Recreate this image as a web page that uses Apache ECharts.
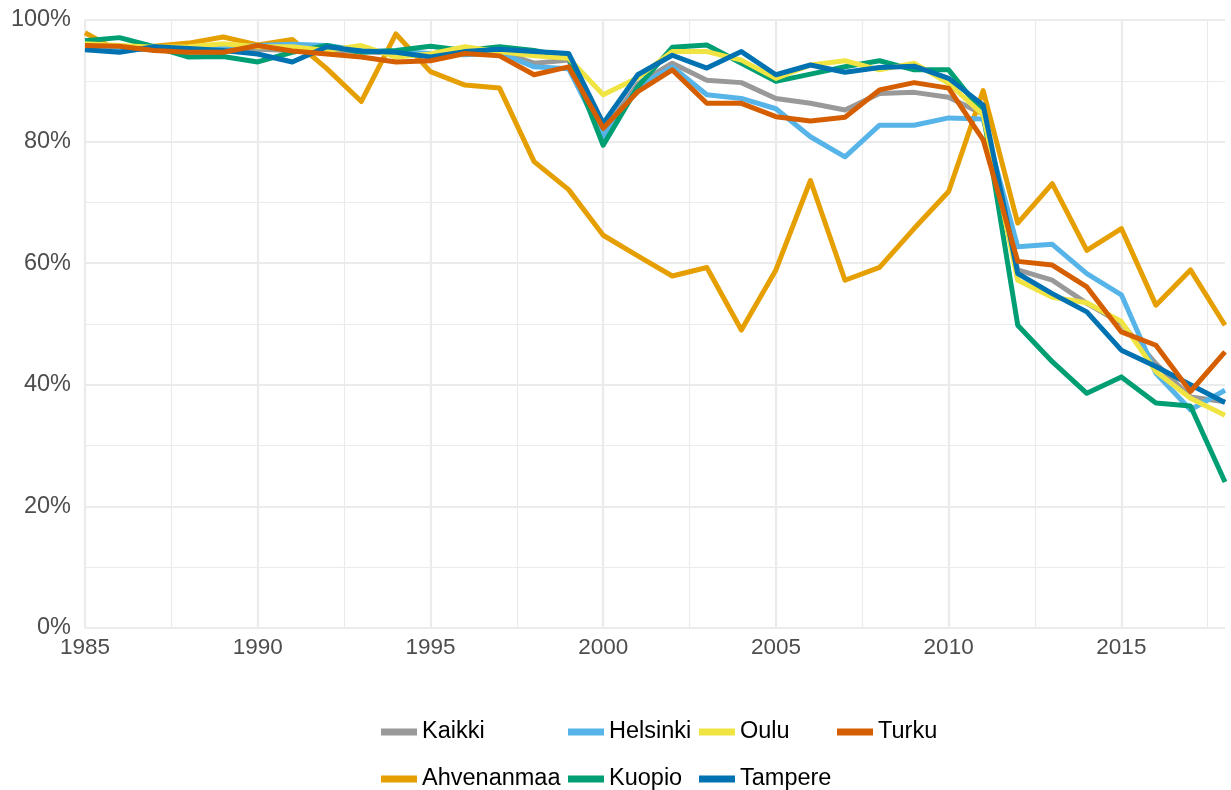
<!DOCTYPE html>
<html>
<head>
<meta charset="utf-8">
<script src="https://cdn.jsdelivr.net/npm/echarts@6/dist/echarts.min.js"></script>
<style>
html,body{margin:0;padding:0;background:#fff;}
#chart{width:1231px;height:790px;}
</style>
</head>
<body>
<div id="chart"></div>
<script>
const years = [1985,1986,1987,1988,1989,1990,1991,1992,1993,1994,1995,1996,1997,1998,1999,2000,2001,2002,2003,2004,2005,2006,2007,2008,2009,2010,2011,2012,2013,2014,2015,2016,2017,2018];
const xTickLabels = [1985,1990,1995,2000,2005,2010,2015];
const yTickLabels = ['0%','20%','40%','60%','80%','100%'];

const kaikki = [95.5,95.2,95.2,95.0,95.2,95.2,95.0,95.0,94.8,94.5,94.2,94.5,94.8,92.9,93.4,81.6,89.5,92.9,90.1,89.7,87.1,86.3,85.2,87.9,88.1,87.3,84.5,58.9,57.2,53.4,50.1,43.5,38.0,37.2];
const ahvenanmaa = [97.9,94.8,95.7,96.2,97.2,95.9,96.8,92.0,86.6,97.7,91.5,89.3,88.8,76.7,72.1,64.6,61.2,57.9,59.3,49.0,58.9,73.6,57.2,59.3,65.7,71.8,88.4,66.6,73.1,62.1,65.7,53.1,58.9,49.8];
const helsinki = [95.3,95.0,95.3,95.2,95.5,95.8,96.0,95.8,95.0,94.8,94.5,94.3,94.6,92.3,92.0,80.8,89.0,92.3,87.7,87.1,85.4,80.8,77.5,82.7,82.7,83.9,83.7,62.7,63.1,58.3,54.8,41.9,35.9,39.1];
const kuopio = [96.6,97.1,95.6,93.9,94.0,93.1,94.7,95.8,94.7,95.0,95.7,95.0,95.6,95.0,93.9,79.4,89.0,95.5,95.9,92.9,89.9,91.1,92.3,93.3,91.8,91.8,84.7,49.8,43.8,38.6,41.3,37.0,36.5,24.0];
const oulu = [96.1,95.8,95.5,95.6,96.1,95.6,95.6,95.0,95.8,93.9,94.4,95.6,94.8,94.1,93.7,87.7,90.5,94.8,94.8,93.4,90.4,92.6,93.3,91.8,92.9,89.6,84.4,57.2,54.4,53.5,50.4,42.2,37.8,35.0];
const tampere = [95.1,94.7,95.6,95.3,95.0,94.4,93.1,95.6,94.9,94.7,93.9,94.8,95.2,94.8,94.5,83.0,91.0,94.2,92.1,94.8,91.0,92.6,91.4,92.2,92.4,90.4,86.0,58.3,55.0,52.0,45.7,43.0,40.0,37.1];
const turku = [95.8,95.7,95.0,94.7,94.7,95.8,94.9,94.4,93.9,93.1,93.3,94.5,94.1,91.0,92.3,82.2,88.2,91.8,86.3,86.3,84.1,83.4,84.0,88.5,89.7,88.8,80.3,60.3,59.7,56.1,48.7,46.5,38.9,45.4];

const seriesNames = ['Kaikki','Ahvenanmaa','Helsinki','Kuopio','Oulu','Tampere','Turku'];
const seriesData = [kaikki, ahvenanmaa, helsinki, kuopio, oulu, tampere, turku];
const seriesColors = ['#999999','#E69F00','#56B4E9','#009E73','#F0E442','#0072B2','#D55E00'];

const chart = echarts.init(document.getElementById('chart'), null, {renderer:'canvas'});
const font = '"Liberation Sans", Arial, sans-serif';
const gridColor = '#EBEBEB';

const series = seriesNames.map((n,i)=>({
  name: n,
  type: 'line',
  data: years.map((y,j)=>[y, seriesData[i][j]]),
  showSymbol: false,
  symbol: 'none',
  color: seriesColors[i],
  lineStyle: {width: 5, color: seriesColors[i], join: 'round'},
  itemStyle: {color: seriesColors[i]},
  emphasis: {disabled: true},
  xAxisIndex: 0,
  yAxisIndex: 0,
  z: 3 + i
}));

// legend layout: [name, left, top]
const legendPlaces = [
  ['Kaikki', 381, 720], ['Helsinki', 568, 720], ['Oulu', 699, 720], ['Turku', 837, 720],
  ['Ahvenanmaa', 381, 767], ['Kuopio', 568, 767], ['Tampere', 699, 767]
];
const legends = legendPlaces.map(p => ({
  data: [p[0]],
  orient: 'horizontal',
  left: p[1],
  top: p[2],
  itemWidth: 36,
  itemHeight: 7,
  icon: 'rect',
  selectedMode: false,
  padding: 0,
  textStyle: {fontFamily: font, fontSize: 23.5, color: '#000', lineHeight: 24}
}));

chart.setOption({
  animation: false,
  backgroundColor: '#fff',
  grid: {left: 85, right: 6, top: 20, bottom: 162, containLabel: false},
  legend: legends,
  xAxis: [
    {
      type: 'value', min: 1985, max: 2018, interval: 5,
      axisLine: {show: false}, axisTick: {show: false},
      axisLabel: {
        showMaxLabel: false, margin: 8,
        fontFamily: font, fontSize: 22.5, color: '#4D4D4D',
        formatter: v => xTickLabels.indexOf(v) >= 0 ? String(v) : ''
      },
      splitLine: {show: true, showMaxLine: false, lineStyle: {color: gridColor, width: 2.2}},
      z: 1
    },
    {
      type: 'value', min: 1985, max: 2018, interval: 2.5,
      axisLine: {show: false}, axisTick: {show: false}, axisLabel: {show: false},
      splitLine: {show: true, showMaxLine: false, showMinLine: false, lineStyle: {color: gridColor, width: 1.1}},
      z: 0
    }
  ],
  yAxis: {
    type: 'value', min: 0, max: 100, interval: 20,
    axisLine: {show: false}, axisTick: {show: false},
    axisLabel: {
      margin: 14, fontFamily: font, fontSize: 23.5, color: '#4D4D4D',
      formatter: v => yTickLabels[Math.round(v/20)]
    },
    splitLine: {show: true, lineStyle: {color: gridColor, width: 2.2}},
    minorTick: {show: false, splitNumber: 2},
    minorSplitLine: {show: true, lineStyle: {color: gridColor, width: 1.1}}
  },
  series: series
});
</script>
</body>
</html>
